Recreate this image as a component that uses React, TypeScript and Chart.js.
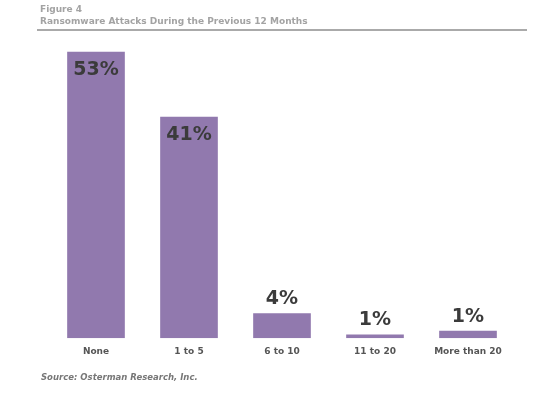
import React, { useEffect, useRef } from "react";
import { Chart, registerables } from "chart.js";
Chart.register(...registerables);

const categories = ["None", "1 to 5", "6 to 10", "11 to 20", "More than 20"];
const values = [53, 41, 4.6, 0.7, 1.4];
const valueLabels = ["53%", "41%", "4%", "1%", "1%"];

const FONT = "'DejaVu Sans', Verdana, sans-serif";

const labelPlugin = {
  id: "barLabels",
  afterDatasetsDraw(chart: any) {
    const ctx = chart.ctx;
    const meta = chart.getDatasetMeta(0);
    ctx.save();
    ctx.font = `bold 19px ${FONT}`;
    ctx.fillStyle = "#3b3b3b";
    ctx.textAlign = "center";
    ctx.textBaseline = "middle";
    meta.data.forEach((bar: any, i: number) => {
      const v = values[i];
      const y = v > 10 ? bar.y + 18 : bar.y - 14;
      ctx.fillText(valueLabels[i], bar.x, y);
    });
    ctx.restore();
  },
};

export default function App() {
  const ref = useRef<HTMLCanvasElement>(null);
  useEffect(() => {
    document.body.style.margin = "0";
    const chart = new Chart(ref.current!, {
      type: "bar",
      data: {
        labels: categories,
        datasets: [
          {
            data: values,
            backgroundColor: "#9179ae",
            categoryPercentage: 0.62,
            barPercentage: 1,
          },
        ],
      },
      options: {
        animation: false,
        responsive: false,
        layout: { padding: { left: 49.5, right: 45.5, top: 41, bottom: 40 } },
        plugins: { legend: { display: false }, tooltip: { enabled: false } },
        scales: {
          y: { display: false, min: 0, max: 55 },
          x: {
            grid: { display: false },
            border: { display: false },
            ticks: {
              color: "#555555",
              font: { family: FONT, weight: "bold", size: 9 },
              padding: 0,
              maxRotation: 0,
            },
          },
        },
      },
      plugins: [labelPlugin],
    });
    return () => chart.destroy();
  }, []);

  return (
    <div style={{ position: "relative", width: 560, height: 397, background: "#fff" }}>
      <canvas ref={ref} width={560} height={397} style={{ position: "absolute", left: 0, top: 0 }} />
      <div
        style={{
          position: "absolute",
          left: 40,
          top: 3,
          fontFamily: FONT,
          fontWeight: "bold",
          fontSize: 9,
          lineHeight: "12px",
          color: "#a3a3a3",
        }}
      >
        <div>Figure 4</div>
        <div>Ransomware Attacks During the Previous 12 Months</div>
      </div>
      <div
        style={{
          position: "absolute",
          left: 37,
          top: 29,
          width: 490,
          height: 2,
          background: "#aaaaaa",
        }}
      />
      <div
        style={{
          position: "absolute",
          left: 41,
          top: 372,
          fontFamily: FONT,
          fontWeight: "bold",
          fontStyle: "italic",
          fontSize: 8.5,
          color: "#777777",
        }}
      >
        Source: Osterman Research, Inc.
      </div>
    </div>
  );
}
